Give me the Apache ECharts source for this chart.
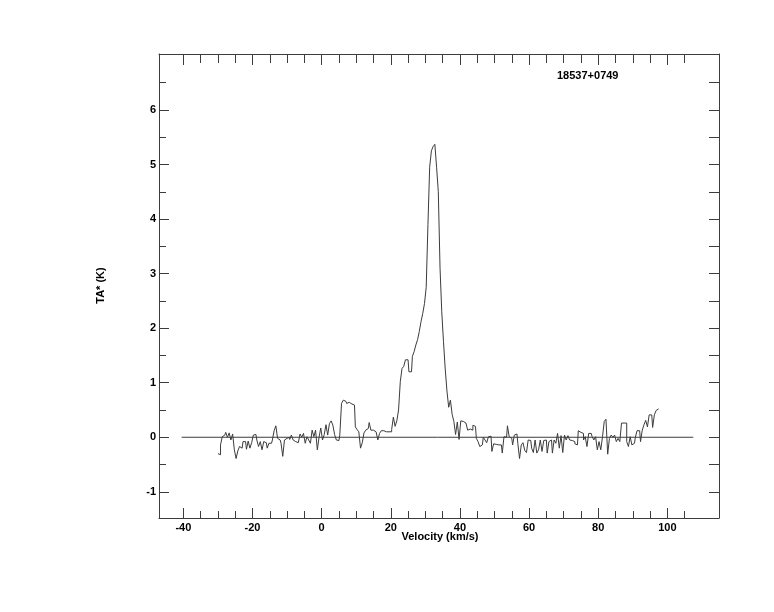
<!DOCTYPE html>
<html><head><meta charset="utf-8">
<script src="https://cdn.jsdelivr.net/npm/echarts@6/dist/echarts.min.js"></script>
<style>html,body{margin:0;padding:0;background:#fff}#c{width:774px;height:612px}</style>
</head><body><div id="c"></div>
<script>
const sourceName = '18537+0749';
const xAxisTitle = 'Velocity (km/s)';
const yAxisTitle = 'TA* (K)';
// channel grid of the spectrum (km/s)
const velStart = -30.0;
const chanWidth = 0.5;
// antenna temperature per channel (K)
const ta = [
  -0.30,-0.32,-0.14,0.01,0.04,0.09,0.00,0.08,-0.05,0.06,
  -0.23,-0.39,-0.25,-0.17,-0.20,-0.08,-0.08,-0.22,-0.07,-0.20,
  -0.10,0.04,0.05,-0.05,-0.17,-0.08,-0.23,-0.08,-0.10,-0.20,
  -0.11,-0.11,-0.05,0.12,0.21,-0.02,-0.05,-0.11,-0.35,-0.05,
  -0.02,0.00,-0.04,0.04,-0.05,-0.08,-0.10,-0.08,0.06,0.00,
  0.07,-0.11,0.01,-0.05,-0.11,0.13,0.01,0.13,-0.23,0.00,
  0.17,-0.05,0.05,0.23,0.04,0.25,0.30,0.22,0.05,-0.05,
  -0.06,0.04,0.62,0.68,0.66,0.62,0.64,0.61,0.61,0.59,
  0.19,0.14,0.10,-0.20,-0.10,0.08,0.13,0.16,0.27,0.13,
  0.13,0.10,0.07,-0.05,0.07,0.12,0.12,0.10,0.10,0.10,
  0.10,0.14,0.37,0.20,0.30,0.50,1.02,1.26,1.30,1.42,
  1.42,1.20,1.20,1.48,1.57,1.69,1.79,1.94,2.12,2.27,
  2.45,2.75,3.90,4.95,5.25,5.33,5.37,4.95,4.50,3.10,
  2.30,1.75,1.25,0.85,0.55,0.68,0.42,0.29,0.05,0.28,
  -0.04,0.30,0.29,0.26,0.23,0.13,0.15,0.13,0.22,0.20,
  -0.02,-0.08,-0.17,-0.14,0.00,-0.05,-0.10,0.01,0.02,-0.26,
  -0.12,-0.13,-0.14,-0.13,-0.14,-0.29,0.01,0.00,0.21,0.01,
  -0.02,-0.14,0.04,0.06,-0.11,-0.39,-0.14,-0.10,-0.24,-0.28,
  -0.05,-0.06,-0.20,-0.28,-0.05,-0.29,-0.23,-0.05,-0.26,-0.06,
  -0.05,-0.29,-0.08,-0.05,-0.29,-0.05,-0.11,0.07,-0.20,0.03,
  -0.28,0.04,-0.05,0.03,-0.05,-0.06,-0.08,-0.12,-0.14,0.12,
  0.09,0.07,-0.05,0.01,-0.17,0.07,0.07,0.01,-0.05,0.01,
  -0.23,-0.08,-0.23,0.01,0.29,0.33,-0.31,-0.02,0.04,0.00,
  0.04,-0.08,-0.02,-0.08,0.26,0.26,0.26,-0.08,-0.17,0.01,
  -0.14,-0.11,0.00,0.12,0.12,-0.08,0.13,0.23,0.31,0.19,
  0.41,0.41,0.18,0.41,0.49,0.52
];
const baselineVel = [-40.5, 107.5];
const xMajorTicks = [-40,-20,0,20,40,60,80,100];
const xMinorTicks = [-40,-35,-30,-25,-20,-15,-10,-5,0,5,10,15,20,25,30,35,40,45,50,55,60,65,70,75,80,85,90,95,100,105];
const yMajorTicks = [-1,0,1,2,3,4,5,6];
const yMinorTicks = [-1,-0.5,0,0.5,1,1.5,2,2.5,3,3.5,4,4.5,5,5.5,6,6.5];

const FONT = '"Liberation Sans", Arial, Helvetica, sans-serif';
const INK = '#3c3c3c';
const X_MIN = -47.05, X_MAX = 114.95, Y_MIN = -1.48, Y_MAX = 7.025;

const spectrum = ta.map((t, i) => [velStart + i * chanWidth, t]);
const baseline = baselineVel.map(v => [v, 0]);

function xAx(pos, ticks, len, showLine, showLabels) {
  return {
    type: 'value', position: pos, min: X_MIN, max: X_MAX,
    axisLine: { show: showLine, onZero: false, lineStyle: { color: INK, width: 1 } },
    axisTick: { show: true, inside: true, length: len, customValues: ticks, lineStyle: { color: INK, width: 1 } },
    axisLabel: { show: showLabels, customValues: ticks, margin: 4, color: '#000', fontSize: 11, fontWeight: 'bold', fontFamily: FONT },
    splitLine: { show: false }
  };
}
function yAx(pos, ticks, len, showLine, showLabels) {
  return {
    type: 'value', position: pos, min: Y_MIN, max: Y_MAX,
    axisLine: { show: showLine, onZero: false, lineStyle: { color: INK, width: 1 } },
    axisTick: { show: true, inside: true, length: len, customValues: ticks, lineStyle: { color: INK, width: 1 } },
    axisLabel: { show: showLabels, customValues: ticks, margin: 3, color: '#000', fontSize: 11, fontWeight: 'bold', fontFamily: FONT },
    splitLine: { show: false }
  };
}

const chart = echarts.init(document.getElementById('c'), null, { renderer: 'canvas' });
chart.setOption({
  animation: false,
  backgroundColor: '#fff',
  title: {
    text: sourceName, left: 557, top: 70.5, padding: 0,
    textStyle: { fontSize: 11, fontWeight: 'bold', color: '#000', fontFamily: FONT }
  },
  grid: { left: 159, top: 54, width: 560, height: 464, containLabel: false },
  xAxis: [
    xAx('bottom', xMajorTicks, 10, true, true),
    xAx('bottom', xMinorTicks, 7, false, false),
    xAx('top', xMajorTicks, 11, true, false),
    xAx('top', xMinorTicks, 9, false, false)
  ],
  yAxis: [
    yAx('left', yMajorTicks, 10, true, true),
    yAx('left', yMinorTicks, 7, false, false),
    yAx('right', yMinorTicks, 10, true, false)
  ],
  graphic: [
    { type: 'text', x: 101, y: 285.5, rotation: Math.PI / 2,
      style: { text: yAxisTitle, font: 'bold 11px ' + FONT, fill: '#000', align: 'center', verticalAlign: 'middle' } },
    { type: 'text', x: 440, y: 536.5,
      style: { text: xAxisTitle, font: 'bold 11px ' + FONT, fill: '#000', align: 'center', verticalAlign: 'middle' } }
  ],
  series: [
    { type: 'line', data: baseline, xAxisIndex: 0, yAxisIndex: 0, symbol: 'none',
      lineStyle: { color: INK, width: 1 }, silent: true },
    { type: 'line', data: spectrum, step: 'middle', xAxisIndex: 0, yAxisIndex: 0, symbol: 'none',
      lineStyle: { color: INK, width: 1 }, silent: true }
  ]
});
</script></body></html>
